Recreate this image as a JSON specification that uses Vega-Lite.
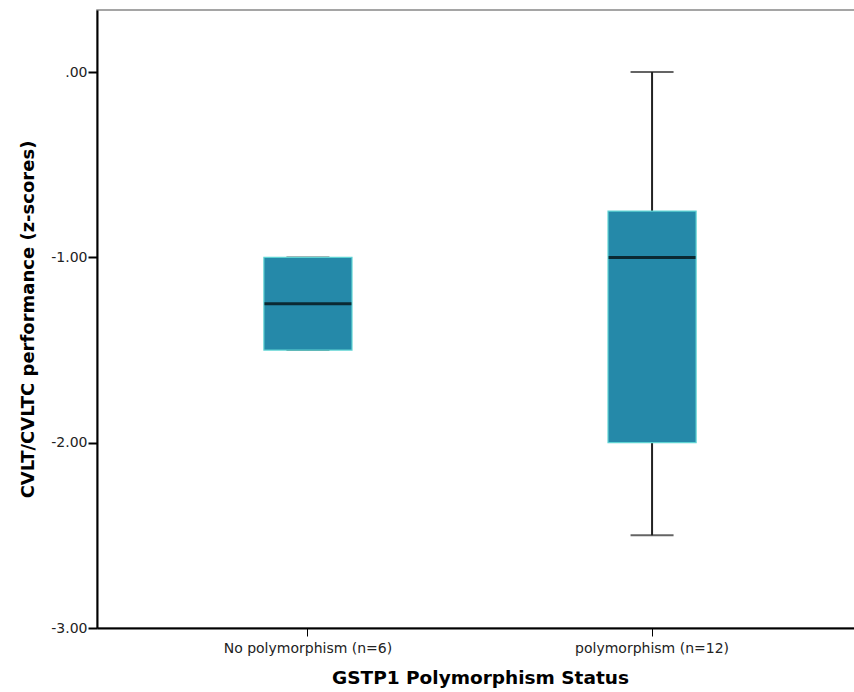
{
  "$schema": "https://vega.github.io/schema/vega-lite/v6.json",
  "autosize": "none",
  "padding": {"left": 97, "top": 10, "right": 0, "bottom": 64},
  "width": 766,
  "height": 618,
  "config": {
    "view": {"stroke": "#888888", "strokeWidth": 1.5},
    "font": "DejaVu Sans"
  },
  "data": {
    "values": [
      {"group": "No polymorphism (n=6)", "min": -1.5, "q1": -1.5, "median": -1.25, "q3": -1.0, "max": -1.0},
      {"group": "polymorphism (n=12)", "min": -2.5, "q1": -2.0, "median": -1.0, "q3": -0.75, "max": 0.0}
    ]
  },
  "encoding": {
    "x": {
      "field": "group",
      "type": "nominal",
      "sort": null,
      "scale": {"paddingInner": 0.744, "paddingOuter": 0.485},
      "axis": {
        "title": "GSTP1 Polymorphism Status",
        "titleFontSize": 18.5,
        "titleFontWeight": "bold",
        "titleColor": "#000000",
        "titlePadding": 13,
        "labelAngle": 0,
        "labelFontSize": 14,
        "labelColor": "#222222",
        "labelPadding": 5,
        "tickSize": 8,
        "tickColor": "#000000",
        "domainColor": "#000000",
        "domainWidth": 2
      }
    }
  },
  "layer": [
    {
      "mark": {"type": "rule", "color": "#222222", "strokeWidth": 2},
      "encoding": {
        "y": {
          "field": "min",
          "type": "quantitative",
          "scale": {"domain": [-3, 0.335], "nice": false, "zero": false},
          "axis": {
            "title": "CVLT/CVLTC performance (z-scores)",
            "titleFontSize": 18,
            "titleFontWeight": "bold",
            "titleColor": "#000000",
            "titlePadding": 13,
            "values": [-3, -2, -1, 0],
            "labelExpr": "datum.value < 0 ? '-' + format(-datum.value, '.2f') : '.00'",
            "labelFontSize": 14,
            "labelColor": "#222222",
            "labelPadding": 1,
            "tickSize": 9,
            "tickColor": "#000000",
            "tickWidth": 2,
            "domainColor": "#000000",
            "domainWidth": 2,
            "grid": false
          }
        },
        "y2": {"field": "max"}
      }
    },
    {
      "mark": {"type": "tick", "color": "#222222", "thickness": 2, "size": 43},
      "encoding": {"y": {"field": "min", "type": "quantitative"}}
    },
    {
      "mark": {"type": "tick", "color": "#222222", "thickness": 2, "size": 43},
      "encoding": {"y": {"field": "max", "type": "quantitative"}}
    },
    {
      "mark": {"type": "bar", "fill": "#2589a9", "stroke": "#5fd3d3", "strokeWidth": 1.2},
      "encoding": {
        "y": {"field": "q1", "type": "quantitative"},
        "y2": {"field": "q3"}
      }
    },
    {
      "mark": {"type": "tick", "color": "#000000", "thickness": 3, "size": 87},
      "encoding": {"y": {"field": "median", "type": "quantitative"}}
    }
  ]
}
